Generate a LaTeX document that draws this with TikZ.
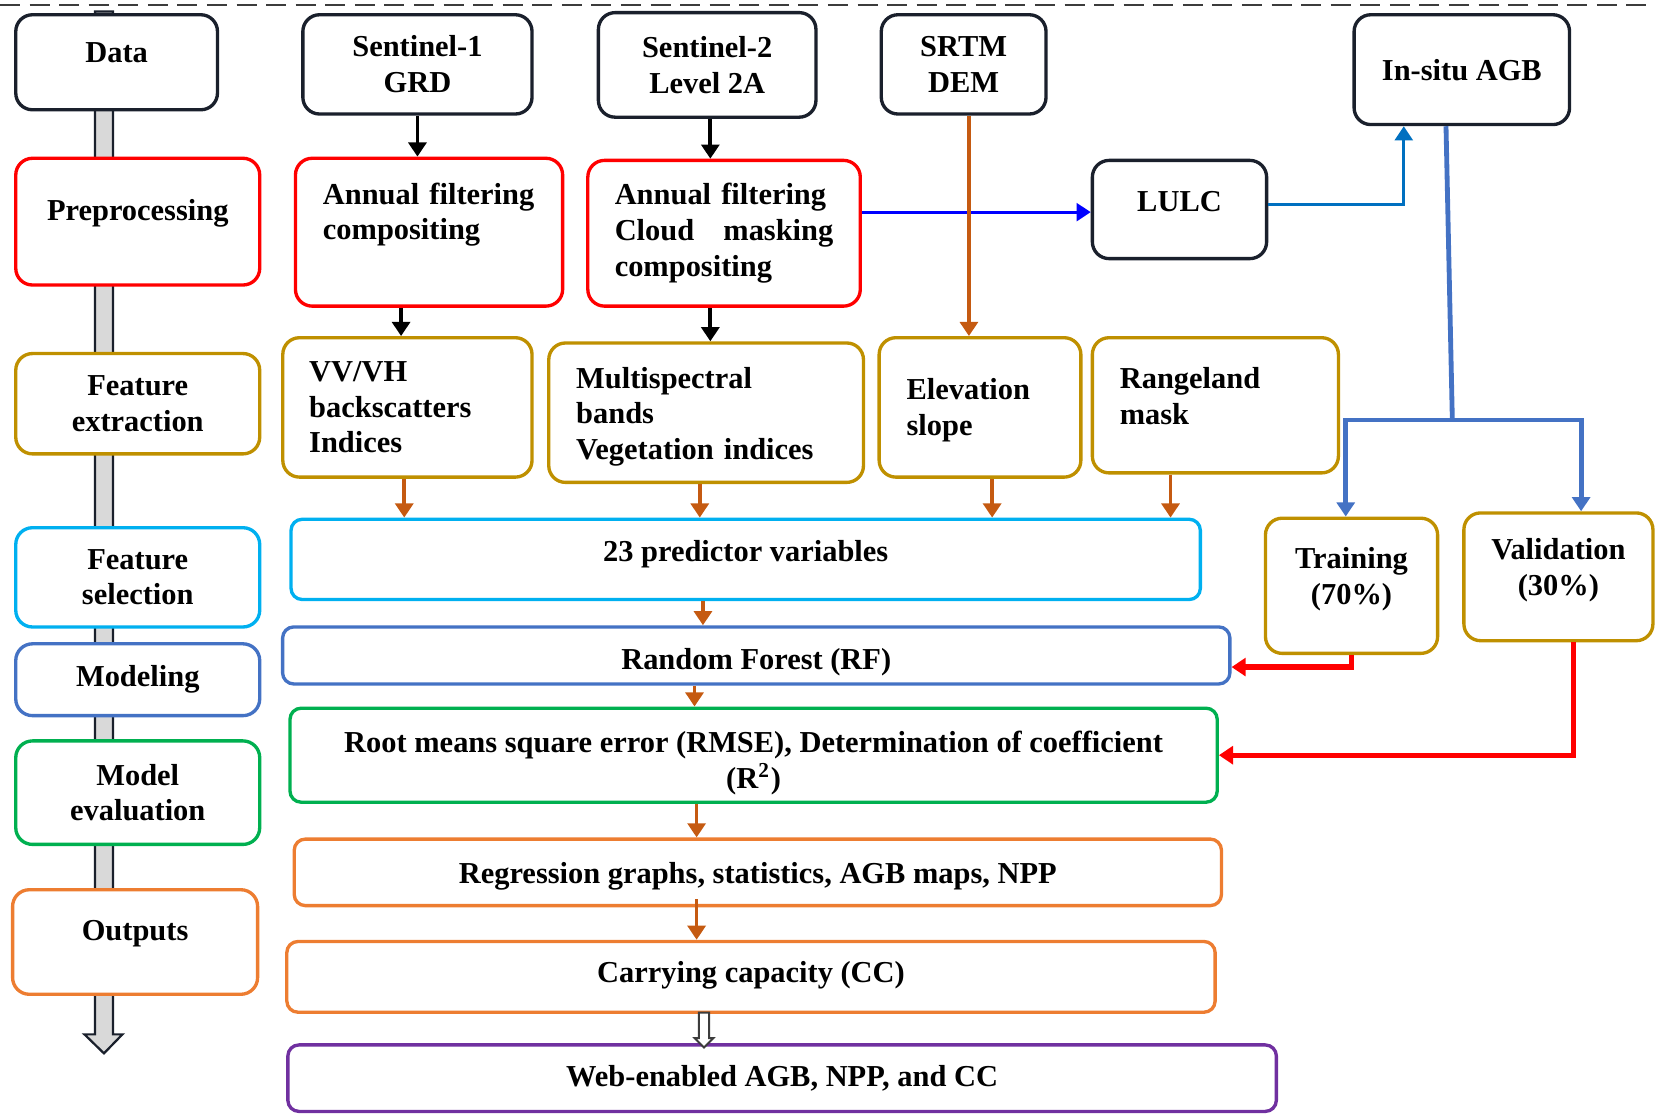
\documentclass[tikz,border=0pt]{standalone}
\usepackage{fontspec}
\setmainfont{Liberation Serif}
\usetikzlibrary{arrows.meta, positioning, calc, shapes.arrows}
\definecolor{inknavy}{RGB}{26, 32, 44}
\definecolor{inkgray}{RGB}{60, 60, 60}
\definecolor{barfill}{RGB}{217, 217, 217}
\definecolor{prered}{RGB}{255, 0, 0}
\definecolor{featgold}{RGB}{191, 144, 0}
\definecolor{selcyan}{RGB}{0, 176, 240}
\definecolor{modblue}{RGB}{68, 114, 196}
\definecolor{evalgreen}{RGB}{0, 176, 80}
\definecolor{outorange}{RGB}{237, 125, 49}
\definecolor{webpurple}{RGB}{112, 48, 160}
\definecolor{flowbrown}{RGB}{197, 90, 17}
\definecolor{lulcblue}{RGB}{0, 112, 192}
\definecolor{linkblue}{RGB}{0, 0, 255}
\newcommand{\padbelow}[1]{\rule[-#1]{0pt}{0pt}}
\newcommand{\padabove}[1]{\rule{0pt}{#1}}

\begin{document}
\begin{tikzpicture}[
    x=0.01cm, y=-0.01cm,
    every node/.style={font=\bfseries\fontsize{8.2}{9.6}\selectfont, inner sep=0pt},
    box/.style={draw=#1, line width=0.9pt, rounded corners=4.5pt, fill=white, align=center},
    wide/.style={box=#1, rounded corners=3pt},
    para/.style={text width=#1, align=left},
    link/.style={draw=#1, line width=1pt},
    flow/.style={link=#1, -{Triangle[length=3.8pt, width=4.8pt]}},
    redflow/.style={flow=prered, line width=1.4pt},
  ]
  \useasboundingbox (0,0) rectangle (1568,1055);
  \draw[inkgray, line width=0.6pt, dash pattern=on 0.19cm off 0.09cm] (0,5) -- (1568,5);

  % stage bar behind the left column
  \draw[draw=inknavy, fill=barfill, line width=0.6pt]
    (90,11) -- (107,11) -- (107,980) -- (116,980) -- (98.5,998) -- (80,980) -- (90,980) -- cycle;

  % stages
  \node[box=inknavy, minimum width=1.91cm, minimum height=0.90cm] (data) at (110.5,59) {Data\padbelow{5pt}};
  \node[box=prered, minimum width=2.31cm, minimum height=1.20cm] (prep) at (130.5,210) {Preprocessing\padbelow{6.3pt}};
  \node[box=featgold, minimum width=2.31cm, minimum height=0.95cm] (fext) at (130.5,382.5) {Feature\\extraction};
  \node[box=selcyan, minimum width=2.31cm, minimum height=0.94cm] (fsel) at (130.5,547) {Feature\\selection};
  \node[box=modblue, minimum width=2.31cm, minimum height=0.68cm] (model) at (130.5,644) {Modeling};
  \node[box=evalgreen, minimum width=2.31cm, minimum height=0.98cm] (meval) at (130.5,751) {Model\\evaluation};
  \node[box=outorange, minimum width=2.32cm, minimum height=0.99cm] (outs) at (128,892.5) {Outputs\padbelow{6.3pt}};

  % data sources
  \node[box=inknavy, minimum width=2.17cm, minimum height=0.94cm] (s1) at (395.5,61) {Sentinel-1\\GRD};
  \node[box=inknavy, minimum width=2.06cm, minimum height=0.99cm] (s2) at (670,61.5) {Sentinel-2\\Level 2A};
  \node[box=inknavy, minimum width=1.56cm, minimum height=0.94cm] (srtm) at (913,61) {SRTM\\DEM};
  \node[box=inknavy, minimum width=2.04cm, minimum height=1.04cm] (insitu) at (1385,66) {In-situ AGB};

  % preprocessing
  \node[box=prered, para=2.01cm, minimum width=2.53cm, minimum height=1.40cm] (s1pre) at (406.5,220) {Annual filtering\\compositing\padbelow{11.3pt}};
  \node[box=prered, para=2.07cm, minimum width=2.58cm, minimum height=1.38cm] (s2pre) at (686,221) {Annual filtering\\Cloud\hfill masking\\compositing};
  \node[box=inknavy, minimum width=1.65cm, minimum height=0.93cm] (lulc) at (1117.5,198.5) {LULC\padbelow{4.5pt}};

  % features
  \node[box=featgold, para=1.86cm, minimum width=2.36cm, minimum height=1.32cm] (s1feat) at (386,386) {VV/VH\\backscatters\\Indices};
  \node[box=featgold, para=2.46cm, minimum width=2.98cm, minimum height=1.32cm] (s2feat) at (669,391) {\padabove{7.9pt}Multispectral\\bands\\Vegetation indices};
  \node[box=featgold, para=1.39cm, minimum width=1.91cm, minimum height=1.32cm] (elev) at (928.5,386) {\padabove{7.3pt}Elevation\\slope};
  \node[box=featgold, para=1.81cm, minimum width=2.33cm, minimum height=1.28cm] (range) at (1151.5,384) {Rangeland\\mask\padbelow{5pt}};
  \node[box=featgold, minimum width=1.63cm, minimum height=1.28cm] (train) at (1280.5,555) {Training\\(70\%)\padbelow{5.3pt}};
  \node[box=featgold, minimum width=1.79cm, minimum height=1.21cm] (valid) at (1476.5,546.5) {Validation\\(30\%)\padbelow{5.3pt}};

  % model chain
  \node[wide=selcyan, minimum width=8.61cm, minimum height=0.76cm] (pred) at (706.5,530) {23 predictor variables\padbelow{4.6pt}};
  \node[wide=modblue, minimum width=8.97cm, minimum height=0.54cm] (rf) at (716.5,621) {\padabove{9.2pt}Random Forest (RF)};
  \node[wide=evalgreen, minimum width=8.78cm, minimum height=0.89cm] (rmse) at (714,715.5) {\padabove{10pt}Root means square error (RMSE), Determination of coefficient\\(R\textsuperscript{2})};
  \node[wide=outorange, minimum width=8.78cm, minimum height=0.63cm] (reg) at (718,826.5) {\padabove{7.6pt}Regression graphs, statistics, AGB maps, NPP};
  \node[wide=outorange, minimum width=8.79cm, minimum height=0.67cm] (cc) at (711.5,925.5) {Carrying capacity (CC)\padbelow{2.9pt}};
  \node[wide=webpurple, minimum width=9.36cm, minimum height=0.63cm] (web) at (741,1021.5) {Web-enabled AGB, NPP, and CC};

  % connectors
  \draw[flow=black] (s1.south) -- (s1.south |- s1pre.north);
  \draw[flow=black] (380,0 |- s1pre.south) -- (380,0 |- s1feat.north);
  \draw[flow=black] (673,0 |- s2.south) -- (673,0 |- s2pre.north);
  \draw[flow=black] (673,0 |- s2pre.south) -- (673,0 |- s2feat.north);
  \draw[flow=linkblue, line width=0.8pt] (s2pre.east |- 0,201) -- (lulc.west |- 0,201);
  \draw[flow=flowbrown] (918,0 |- srtm.south) -- (918,0 |- elev.north);
  \draw[flow=lulcblue, line width=0.8pt] (lulc.east |- 0,194) -| (1330,0 |- insitu.south);

  \draw[flow=flowbrown] (383,0 |- s1feat.south) -- (383,0 |- pred.north);
  \draw[flow=flowbrown] (663,0 |- s2feat.south) -- (663,0 |- pred.north);
  \draw[flow=flowbrown] (940,0 |- elev.south) -- (940,0 |- pred.north);
  \draw[flow=flowbrown] (1109,0 |- range.south) -- (1109,0 |- pred.north);

  \coordinate (split) at (1376,398);
  \draw[link=modblue, line width=1.3pt] (1370,0 |- insitu.south) -- (split);
  \draw[flow=modblue, line width=1.3pt] (split) -| (1275,0 |- train.north);
  \draw[flow=modblue, line width=1.3pt] (split) -| (1498,0 |- valid.north);

  \draw[flow=flowbrown] (666,0 |- pred.south) -- (666,0 |- rf.north);
  \draw[flow=flowbrown] (658,0 |- rf.south) -- (658,0 |- rmse.north);
  \draw[flow=flowbrown] (660,0 |- rmse.south) -- (660,0 |- reg.north);
  \draw[flow=flowbrown] (660,852) -- (660,0 |- cc.north);
  \node[single arrow, draw=inkgray, fill=white, line width=0.5pt, rotate=-90,
    minimum height=0.33cm, minimum width=0.16cm, single arrow head extend=0.04cm,
    inner sep=0.04cm] (ccweb) at (667,973.5) {};

  \draw[redflow] (train.south) |- (rf.east |- 0,632);
  \draw[redflow] (1491,0 |- valid.south) |- (rmse.east);
\end{tikzpicture}
\end{document}
